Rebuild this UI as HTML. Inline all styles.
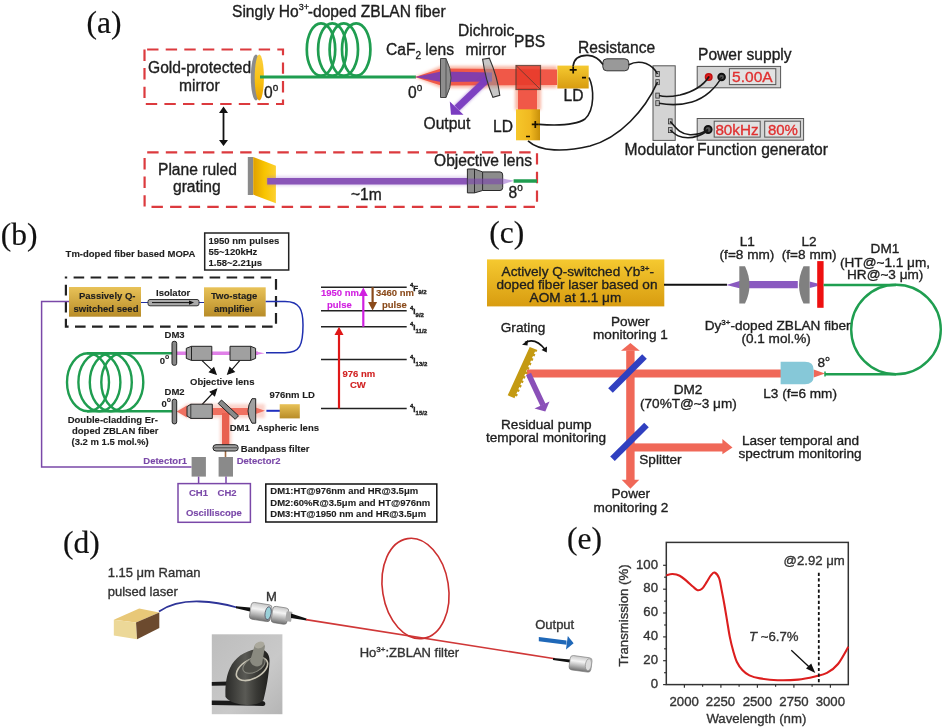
<!DOCTYPE html>
<html><head><meta charset="utf-8">
<style>
html,body{margin:0;padding:0;background:#fff;width:944px;height:727px;overflow:hidden}
svg{display:block;will-change:transform}
text{font-family:"Liberation Sans",sans-serif;fill:#1e1e1e;stroke:#1e1e1e;stroke-width:0.35px}
.sr{font-family:"Liberation Serif",serif;fill:#111;stroke:#111;stroke-width:0.2px}
.a{font-size:15.6px}
.b{font-size:9.5px;font-weight:bold;stroke-width:0.12px}
.c{font-size:13.6px}
.d{font-size:13px}
.e{font-size:13.2px}
</style></head><body>
<svg width="944" height="727" viewBox="0 0 944 727">
<defs>
 <linearGradient id="goldH" x1="0" y1="0" x2="1" y2="0"><stop offset="0" stop-color="#f6c72a"/><stop offset="0.6" stop-color="#f0b820"/><stop offset="1" stop-color="#c8900a"/></linearGradient>
 <linearGradient id="goldV" x1="0" y1="0" x2="0" y2="1"><stop offset="0" stop-color="#e8c258"/><stop offset="1" stop-color="#b88c28"/></linearGradient>
 <linearGradient id="goldC" x1="0" y1="0" x2="0" y2="1"><stop offset="0" stop-color="#f5c930"/><stop offset="1" stop-color="#d89c10"/></linearGradient>
 <filter id="glow" x="-20%" y="-50%" width="140%" height="200%"><feGaussianBlur stdDeviation="1.6"/></filter>
 <filter id="blur1"><feGaussianBlur stdDeviation="0.6"/></filter>
</defs>

<!-- ================= PANEL A ================= -->
<g id="pa">
 <text class="sr" x="86.5" y="33.3" font-size="31.5">(a)</text>
 <text class="a" x="232" y="16.5">Singly Ho<tspan font-size="9" dy="-6.5">3+</tspan><tspan dy="6.5" dx="-1.2">-doped ZBLAN fiber</tspan></text>
 <rect x="144.5" y="49.5" width="138.5" height="54.5" fill="none" stroke="#dc3a3e" stroke-width="2.2" stroke-dasharray="11.4 7.2" stroke-dashoffset="16"/>
 <rect x="144.6" y="152.4" width="392.4" height="54.5" fill="none" stroke="#dc3a3e" stroke-width="2.2" stroke-dasharray="11.4 7.2" stroke-dashoffset="16"/>
 <text class="a" x="148" y="72.5">Gold-protected</text>
 <text class="a" x="179" y="91">mirror</text>
 <!-- mirror -->
 <ellipse cx="256" cy="77.5" rx="5.2" ry="23" fill="#8c8c8c"/>
 <ellipse cx="259.3" cy="77.5" rx="4.6" ry="23" fill="url(#goldM)"/>
 <defs><linearGradient id="goldM" x1="0" y1="0" x2="0" y2="1"><stop offset="0" stop-color="#fcd040"/><stop offset="0.6" stop-color="#f8c010"/><stop offset="1" stop-color="#e8a000"/></linearGradient></defs>
 <text class="a" x="264" y="97.5">0<tspan font-size="10" dy="-7">o</tspan></text>
 <!-- fiber + coil -->
 <line x1="260" y1="77" x2="416" y2="77" stroke="#1f9d50" stroke-width="3"/>
 <g fill="none" stroke="#1f9d50" stroke-width="2.7">
  <ellipse cx="321" cy="49.5" rx="14.2" ry="26.2"/>
  <ellipse cx="332.3" cy="49.5" rx="14.2" ry="26.2"/>
  <ellipse cx="343.8" cy="49.5" rx="14.2" ry="26.2"/>
  <ellipse cx="356.2" cy="49.5" rx="14.2" ry="26.2"/>
 </g>
 <text class="a" x="386" y="54.5">CaF<tspan font-size="10" dy="4">2</tspan><tspan dy="-4"> lens</tspan></text>
 <text class="a" x="458" y="35.5">Dichroic</text>
 <text class="a" x="465.5" y="54.5">mirror</text>
 <text class="a" x="514" y="46.5">PBS</text>
 <text class="a" x="408" y="98">0<tspan font-size="10" dy="-7">o</tspan></text>
 <!-- beams -->
 <g filter="url(#glow)">
  <path d="M415,77 L441,66 L557,66 L557,88 L441,88 Z" fill="#f8a890" opacity="0.8"/>
  <rect x="515" y="88" width="26" height="22" fill="#f8a890" opacity="0.8"/>
 </g>
 <path d="M415,77 L441,68.5 L557,69.5 L557,85 L441,85.5 Z" fill="#f05848"/>
 <rect x="518" y="88" width="19" height="22" fill="#f05848"/>
 <path d="M415,77 L441,71.5 L492,72.5 L492,81.5 L441,82 Z" fill="#7a3cb4" opacity="0.92"/>
 <path d="M489,77.5 L456,109" stroke="#7a3cc0" stroke-width="7.5" opacity="0.5" filter="url(#glow)"/>
 <path d="M489,77.5 L457,108" stroke="#7a3cc0" stroke-width="7" opacity="0.95"/>
 <path d="M451,114.7 L449.8,101.5 L463.5,114.8 Z" fill="#7a3cc0"/>
 <!-- lens -->
 <path d="M440.5,58.5 L446,58.5 Q456,78 446,97.5 L440.5,97.5 Z" fill="#8e8e8e" stroke="#444" stroke-width="1"/>
 <line x1="446" y1="58.5" x2="446" y2="97.5" stroke="#444" stroke-width="0.8"/>
 <!-- dichroic -->
 <path d="M482.6,59.2 L489.4,58.2 Q497.5,77 499.8,95.3 L492.9,97.4 Q485.5,80 482.6,59.2 Z" fill="#9a9a9a" fill-opacity="0.55" stroke="#333" stroke-width="1.1"/>
 <!-- PBS -->
 <rect x="516" y="65.5" width="24.5" height="24" fill="#e83a2a" opacity="0.85" stroke="#5a3a30" stroke-width="1.2"/>
 <line x1="516" y1="65.5" x2="540.5" y2="89.5" stroke="#5a3a30" stroke-width="0.8"/>
 <!-- LDs -->
 <rect x="557.4" y="65.6" width="31.3" height="22.9" fill="url(#goldC)"/>
 <path d="M569.7,69.9 L576.7,69.9 M573.2,66.4 L573.2,73.4 M582,77.6 L586,77.6" stroke="#1a1000" stroke-width="1.7"/>
 <text class="a" x="563.5" y="101.2">LD</text>
 <rect x="516" y="109.3" width="24" height="31" fill="url(#goldH)"/>
 <path d="M531.8,124.4 L538.8,124.4 M535.3,120.9 L535.3,127.9 M526,136.5 L530,136.5" stroke="#1a1000" stroke-width="1.7"/>
 <text class="a" x="493" y="131.5">LD</text>
 <text class="a" x="423.5" y="129">Output</text>
 <rect x="602.8" y="58.8" width="26" height="12" rx="4" fill="#999" stroke="#333" stroke-width="1"/>
 <text class="a" x="578" y="52.8">Resistance</text>
 <!-- modulator -->
 <rect x="653" y="65.8" width="22.2" height="74.6" fill="#d4d4d4" stroke="#555" stroke-width="1"/>
 <g fill="#bbb" stroke="#333" stroke-width="0.8">
  <rect x="655.8" y="71.5" width="3.5" height="5"/><rect x="655.8" y="79.7" width="3.5" height="5"/>
  <rect x="655.8" y="93.1" width="3.5" height="5"/><rect x="655.8" y="100.7" width="3.5" height="5"/>
  <rect x="668.4" y="118.9" width="3.7" height="5"/><rect x="668.4" y="127.6" width="3.7" height="5"/>
 </g>
 <text class="a" x="624.5" y="155">Modulator</text>
 <text class="a" x="697" y="155">Function generator</text>
 <!-- power supply -->
 <text class="a" x="698" y="59.7">Power supply</text>
 <rect x="697.2" y="66.4" width="83.4" height="21.4" fill="#d4d4d4" stroke="#555" stroke-width="1"/>
 <circle cx="708.7" cy="77" r="3.3" fill="#e02020" stroke="#c01010" stroke-width="1.4"/>
 <circle cx="708.7" cy="77" r="1" fill="#600"/>
 <circle cx="721.6" cy="77" r="3.3" fill="#555" stroke="#111" stroke-width="2"/>
 <rect x="729.4" y="68.7" width="46.4" height="15.9" fill="#e2e2e2" stroke="#555" stroke-width="1"/>
 <text x="732.1" y="82" font-size="15" textLength="40.5" lengthAdjust="spacingAndGlyphs" style="fill:#e03030;stroke:#e03030">5.00A</text>
 <!-- function generator -->
 <rect x="697.2" y="118.5" width="106.4" height="21.7" fill="#d4d4d4" stroke="#555" stroke-width="1"/>
 <circle cx="708.1" cy="129.5" r="3.5" fill="#555" stroke="#111" stroke-width="2"/>
 <rect x="714.2" y="121.2" width="46" height="15.9" fill="#e2e2e2" stroke="#555" stroke-width="1"/>
 <rect x="764.7" y="121.2" width="35.7" height="15.9" fill="#e2e2e2" stroke="#555" stroke-width="1"/>
 <text x="715.4" y="134.8" font-size="15" textLength="43.2" lengthAdjust="spacingAndGlyphs" style="fill:#e03030;stroke:#e03030">80kHz</text>
 <text x="767.9" y="134.8" font-size="15" textLength="30" lengthAdjust="spacingAndGlyphs" style="fill:#e03030;stroke:#e03030">80%</text>
 <!-- wires -->
 <g fill="none" stroke="#1a1a1a" stroke-width="1.6">
  <path d="M573,66.4 C574,58 580,55 588,55.4 C596,56 600,60 603,64.5"/>
  <path d="M628.8,64.8 C633,62.5 640,61.5 646,63.5 C651,65.5 655,69 657.5,74"/>
  <path d="M589,77.5 C594,88 595,110 585,119 C575,126 555,125.5 539,124.4"/>
  <path d="M528,140.8 C540,152 565,152 590,146 C620,138 645,110 657.5,82.2"/>
  <path d="M659,95.6 C664,97 670,97 680,95 C692,92 703,86 708.7,77"/>
  <path d="M659,103.2 C668,105 680,105.5 692,102 C705,98 716,88 721.6,77"/>
  <path d="M670.2,121.4 C676,128 680,134 690,134.8 C697,135 703,133 708.1,129.5"/>
  <path d="M670.2,130.1 C675,134 678,137.7 688,137.8 C697,137.8 703,134 708.1,130.5"/>
 </g>
 <!-- double arrow -->
 <line x1="223.5" y1="111" x2="223.5" y2="142" stroke="#111" stroke-width="1.8"/>
 <path d="M219,113 L223.5,106.5 L228,113 Z M219,140 L223.5,146 L228,140 Z" fill="#111"/>
 <!-- grating bottom -->
 <text class="a" x="158" y="175">Plane ruled</text>
 <text class="a" x="173" y="191.5">grating</text>
 <defs><linearGradient id="goldG" x1="0" y1="0" x2="1" y2="0"><stop offset="0" stop-color="#e0a000"/><stop offset="0.5" stop-color="#f8c400"/><stop offset="1" stop-color="#fcd030"/></linearGradient></defs>
 <path d="M247.8,157 L253.2,157 L253.2,195 L247.8,195 Z" fill="#8a8a8a"/>
 <path d="M253.2,157 L275.9,165.7 L275.9,203.2 L253.2,194.6 Z" fill="url(#goldG)"/>
 <rect x="267" y="176.5" width="201" height="9" fill="#a070d0" opacity="0.35" filter="url(#glow)"/>
 <rect x="267.2" y="178" width="201" height="6.5" fill="#8a55b8"/>
 <text class="a" x="351" y="200">~1m</text>
 <text class="a" x="434" y="166">Objective lens</text>
 <path d="M467.4,169 L474.5,169 L482.6,171.9 L500,171.9 Q502.7,171.9 502.7,175 L502.7,187.5 Q502.7,190.5 500,190.5 L482.6,190.5 L474.5,192.9 L467.4,192.9 Z" fill="#8c8c8c" stroke="#2a2a2a" stroke-width="1"/>
 <line x1="474.5" y1="169" x2="474.5" y2="192.9" stroke="#2a2a2a" stroke-width="1"/>
 <line x1="482.6" y1="171.9" x2="482.6" y2="190.5" stroke="#2a2a2a" stroke-width="1"/>
 <rect x="467.4" y="178.6" width="35.3" height="5.7" fill="#7a40b0" opacity="0.55"/>
 <path d="M502.7,178.4 L514,180.8 L502.7,184.5 Z" fill="#a070d0" opacity="0.6"/>
 <line x1="513.6" y1="181" x2="537" y2="181" stroke="#1f9d50" stroke-width="3.5"/>
 <text class="a" x="508.5" y="198.1">8<tspan font-size="10" dy="-7">o</tspan></text>
</g>

<!-- ================= PANEL B ================= -->
<g id="pb">
 <text class="sr" x="0.7" y="245.0" font-size="31.5">(b)</text>
 <text class="b" x="65.6" y="257">Tm-doped fiber based MOPA</text>
 <rect x="204.7" y="233" width="84" height="37" fill="#fff" stroke="#222" stroke-width="1.5"/>
 <text class="b" x="208.5" y="243.5">1950 nm pulses</text>
 <text class="b" x="208.5" y="254.5">55~120kHz</text>
 <text class="b" x="208.5" y="266">1.58~2.21μs</text>
 <rect x="65.9" y="277.5" width="210.1" height="49.2" fill="none" stroke="#222" stroke-width="2.2" stroke-dasharray="10.6 6.4" stroke-dashoffset="9.3"/>
 <!-- purple detector line -->
 <path d="M69,301.5 L41.6,301.5 L41.6,467 L191.6,467" fill="none" stroke="#7a48a8" stroke-width="1.5"/>
 <rect x="69" y="287" width="72" height="29.7" fill="url(#goldV)"/>
 <text class="b" x="79" y="299" font-size="9.8">Passively Q-</text>
 <text class="b" x="73.5" y="311.5" font-size="9.8">switched seed</text>
 <line x1="141" y1="302.5" x2="204" y2="302.5" stroke="#2030a0" stroke-width="1.2"/>
 <rect x="148" y="299.5" width="51" height="6.3" rx="2" fill="#aaa" stroke="#333" stroke-width="1"/>
 <line x1="152" y1="302.6" x2="192" y2="302.6" stroke="#111" stroke-width="1"/>
 <path d="M189,300.5 L194,302.6 L189,304.7 Z" fill="#111"/>
 <text class="b" x="156" y="296">Isolator</text>
 <rect x="204" y="287.3" width="61.7" height="29.2" fill="url(#goldV)"/>
 <text class="b" x="211" y="299" font-size="9.8">Two-stage</text>
 <text class="b" x="214" y="311.5" font-size="9.8">amplifier</text>
 <path d="M265.7,301.5 L285,301.5 C300,301.5 303,310 303,325 C303,345 300,352.7 285,352.7 L266,352.7" fill="none" stroke="#2030b0" stroke-width="1.5"/>
 <!-- coil -->
 <g fill="none" stroke="#1f9d50" stroke-width="2.4">
  <ellipse cx="88" cy="382.3" rx="21" ry="29"/>
  <ellipse cx="99.4" cy="382.3" rx="21" ry="29"/>
  <ellipse cx="110.8" cy="382.3" rx="21" ry="29"/>
  <ellipse cx="122.3" cy="382.3" rx="21" ry="29"/>
 </g>
 <line x1="87" y1="353.3" x2="172" y2="353.3" stroke="#1f9d50" stroke-width="2.4"/>
 <line x1="87" y1="411.3" x2="172" y2="411.3" stroke="#1f9d50" stroke-width="2.4"/>
 <text class="b" x="164.6" y="337.5">DM3</text>
 <text class="b" x="164.6" y="394.7">DM2</text>
 <text class="b" x="159.8" y="364">0<tspan font-size="7" dy="-5">o</tspan></text>
 <text class="b" x="161.5" y="407">0<tspan font-size="7" dy="-5">o</tspan></text>
 <!-- upper objective pair -->
 <line x1="176" y1="353.2" x2="258" y2="353.2" stroke="#e080e8" stroke-width="3.4"/>
 <path d="M255.6,351.5 L264.7,353.2 L255.6,355 Z" fill="#e080e8"/>
 <rect x="172" y="341.3" width="4.7" height="24" rx="2" fill="#888" stroke="#222" stroke-width="1"/>
 <path d="M191.5,346.3 L211.8,346.3 L211.8,360.4 L191.5,360.4 L186.3,358.4 L186.3,348.3 Z" fill="#a0a0a0" stroke="#222" stroke-width="1"/>
 <line x1="191.5" y1="346.3" x2="191.5" y2="360.4" stroke="#222" stroke-width="1"/>
 <path d="M230,346.3 L250.7,346.3 L255.6,348.3 L255.6,358.4 L250.7,360.4 L230,360.4 Z" fill="#a0a0a0" stroke="#222" stroke-width="1"/>
 <line x1="250.7" y1="346.3" x2="250.7" y2="360.4" stroke="#222" stroke-width="1"/>
 <!-- arrows to objective lens label -->
 <g stroke="#111" stroke-width="1.1" fill="#111">
  <line x1="202.1" y1="360.7" x2="213" y2="371.2"/><path d="M216.1,374.2 L209.5,372 L213.8,367.8 Z"/>
  <line x1="239.7" y1="360.7" x2="230.6" y2="371.2"/><path d="M227.6,374.2 L229.8,367.6 L234.3,371.8 Z"/>
  <line x1="202.1" y1="404.5" x2="213.8" y2="392"/><path d="M216.6,389.1 L214.6,395.8 L210.2,391.8 Z"/>
 </g>
 <text class="b" x="190" y="384.8">Objective lens</text>
 <!-- lower path -->
 <g filter="url(#glow)" opacity="0.5">
  <path d="M176.7,411.5 L187,404 L264.9,404 L264.9,418 L187,418 Z" fill="#f7a898"/>
  <rect x="220" y="413" width="11.5" height="33" fill="#f7a898"/>
 </g>
 <path d="M176.7,411.5 L187,405.5 L187,417.5 Z" fill="#f07060"/>
 <rect x="212" y="408" width="36" height="7" fill="#f07060"/>
 <path d="M255.7,407.5 L264.9,410.8 L255.7,414 Z" fill="#f07060"/>
 <rect x="222" y="413" width="7.3" height="32.5" fill="#e86050"/>
 <line x1="225.5" y1="451" x2="225.5" y2="457.3" stroke="#a06a40" stroke-width="1.6"/>
 <rect x="172.2" y="399.2" width="4.5" height="24.7" rx="2" fill="#888" stroke="#222" stroke-width="1"/>
 <path d="M190.8,404.2 L212.3,404.2 L212.3,418.4 L190.8,418.4 L187,416 L187,406.6 Z" fill="#a0a0a0" stroke="#222" stroke-width="1"/>
 <line x1="190.8" y1="404.2" x2="190.8" y2="418.4" stroke="#222" stroke-width="0.8"/>
 <path d="M218.2,403.5 L221.5,400 L238.5,415.8 L235.2,419.3 Z" fill="#8a8a8a" stroke="#222" stroke-width="1"/>
 <path d="M255.7,398.7 L252,398.7 Q244,411 252,423.2 L255.7,423.2 Z" fill="#a0a0a0" stroke="#222" stroke-width="1"/>
 <line x1="266.4" y1="410.8" x2="280" y2="410.8" stroke="#2030c0" stroke-width="2"/>
 <rect x="279.7" y="404.2" width="20.1" height="14.2" fill="url(#goldV)"/>
 <text class="b" x="269.4" y="398">976nm LD</text>
 <text class="b" x="229.7" y="430.6">DM1</text>
 <text class="b" x="256.7" y="430.6">Aspheric lens</text>
 <text class="b" x="67.7" y="423.3">Double-cladding Er-</text>
 <text class="b" x="72" y="434">doped ZBLAN fiber</text>
 <text class="b" x="71.5" y="445.4">(3.2 m 1.5 mol.%)</text>
 <!-- bandpass, detectors, scope -->
 <rect x="213" y="444.7" width="25.2" height="6.3" rx="3" fill="#a0a0a0" stroke="#222" stroke-width="1"/><line x1="214" y1="447.8" x2="237" y2="447.8" stroke="#222" stroke-width="0.7"/>
 <text class="b" x="240.8" y="451.8">Bandpass filter</text>
 <rect x="191.6" y="457" width="14.3" height="19.6" fill="#8a8a8a"/>
 <rect x="218.6" y="457" width="14.4" height="19.6" fill="#8a8a8a"/>
 <line x1="198.6" y1="476.6" x2="198.6" y2="483.6" stroke="#7a48a8" stroke-width="1.5"/>
 <line x1="226" y1="476.6" x2="226" y2="483.6" stroke="#7a48a8" stroke-width="1.5"/>
 <rect x="178" y="483.6" width="72.4" height="38.7" fill="none" stroke="#7a48a8" stroke-width="1.5"/>
 <text class="b" x="143.3" y="463.9" style="fill:#7a48a8;stroke:#7a48a8">Detector1</text>
 <text class="b" x="236.7" y="463.9" style="fill:#7a48a8;stroke:#7a48a8">Detector2</text>
 <text class="b" x="189" y="496.3" style="fill:#7a48a8;stroke:#7a48a8">CH1</text>
 <text class="b" x="217.6" y="496.3" style="fill:#7a48a8;stroke:#7a48a8">CH2</text>
 <text class="b" x="185.9" y="516" style="fill:#7a48a8;stroke:#7a48a8">Oscilliscope</text>
 <rect x="265.8" y="484" width="171" height="38" fill="#fff" stroke="#111" stroke-width="1.5"/>
 <text class="b" x="270.3" y="494.2">DM1:HT@976nm and HR@3.5μm</text>
 <text class="b" x="270.3" y="505.6">DM2:60%R@3.5μm and HT@976nm</text>
 <text class="b" x="270.3" y="517">DM3:HT@1950 nm and HR@3.5μm</text>
 <!-- energy levels -->
 <g stroke="#222" stroke-width="1.6">
  <line x1="321" y1="287.2" x2="406.7" y2="287.2"/>
  <line x1="321" y1="310.7" x2="406.7" y2="310.7"/>
  <line x1="321" y1="326.7" x2="406.7" y2="326.7"/>
  <line x1="321" y1="359.5" x2="406.7" y2="359.5"/>
  <line x1="321" y1="408.5" x2="406.7" y2="408.5"/>
 </g>
 <line x1="339" y1="408.5" x2="339" y2="334" stroke="#e01818" stroke-width="2.2"/>
 <path d="M334.5,335 L339,326.7 L343.5,335 Z" fill="#e01818"/>
 <line x1="363.3" y1="326.7" x2="363.3" y2="295" stroke="#d020e0" stroke-width="2.2"/>
 <path d="M358.8,296 L363.3,287.5 L367.8,296 Z" fill="#d020e0"/>
 <line x1="372.6" y1="287.2" x2="372.6" y2="303" stroke="#8a4a1a" stroke-width="2.2"/>
 <path d="M368.1,302 L372.6,310.5 L377.1,302 Z" fill="#8a4a1a"/>
 <text class="b" x="321" y="296" style="fill:#d020e0;stroke:#d020e0">1950 nm</text>
 <text class="b" x="327" y="307.6" style="fill:#d020e0;stroke:#d020e0">pulse</text>
 <text class="b" x="376" y="296" style="fill:#8a4a1a;stroke:#8a4a1a">3460 nm</text>
 <text class="b" x="382" y="307.6" style="fill:#8a4a1a;stroke:#8a4a1a">pulse</text>
 <text class="b" x="342.4" y="376.7" style="fill:#d02020;stroke:#d02020">976 nm</text>
 <text class="b" x="350" y="387.7" style="fill:#d02020;stroke:#d02020">CW</text>
 <g font-size="8" font-weight="bold">
  <text x="410" y="290.5"><tspan font-size="6" dy="-4">4</tspan><tspan dy="4">F</tspan><tspan font-size="6" dy="3">9/2</tspan></text>
  <text x="410" y="314"><tspan font-size="6" dy="-4">4</tspan><tspan dy="4">I</tspan><tspan font-size="6" dy="3">9/2</tspan></text>
  <text x="410" y="330"><tspan font-size="6" dy="-4">4</tspan><tspan dy="4">I</tspan><tspan font-size="6" dy="3">11/2</tspan></text>
  <text x="410" y="363"><tspan font-size="6" dy="-4">4</tspan><tspan dy="4">I</tspan><tspan font-size="6" dy="3">13/2</tspan></text>
  <text x="410" y="412"><tspan font-size="6" dy="-4">4</tspan><tspan dy="4">I</tspan><tspan font-size="6" dy="3">15/2</tspan></text>
 </g>
</g>

<!-- ================= PANEL C ================= -->
<g id="pc">
 <text class="sr" x="489.3" y="242.5" font-size="31.5">(c)</text>
 <rect x="487" y="259.4" width="177.3" height="47" fill="url(#goldC)"/>
 <text class="c" x="501.6" y="276">Actively Q-switched Yb<tspan font-size="8" dy="-5">3+</tspan><tspan dy="5">-</tspan></text>
 <text class="c" x="496.5" y="289">doped fiber laser based on</text>
 <text class="c" x="529.6" y="302">AOM at 1.1 μm</text>
 <line x1="664" y1="284.8" x2="727" y2="284.8" stroke="#111" stroke-width="2"/>
 <path d="M726.4,285 L739.5,281 L797.8,281 L797.8,288.3 L739.5,288.3 Z" fill="#8a5ac0"/>
 <path d="M809.6,281.5 L817.5,283.5 L817.5,286 L809.6,288 Z" fill="#8a5ac0"/>
 <path d="M739.3,266.2 L745,266.2 Q754,285 745,303.6 L739.3,303.6 Z" fill="#808080"/>
 <path d="M809.6,266.2 L803.5,266.2 Q794.5,285 803.5,303.6 L809.6,303.6 Z" fill="#808080"/>
 <rect x="817.2" y="261.1" width="6.4" height="46.7" fill="#ee1010"/>
 <text class="c" x="739.7" y="245.6">L1</text>
 <text class="c" x="719.6" y="259">(f=8 mm)</text>
 <text class="c" x="801.4" y="245.6">L2</text>
 <text class="c" x="781.8" y="259">(f=8 mm)</text>
 <text class="c" x="870.6" y="252.5">DM1</text>
 <text class="c" x="840" y="266.6">(HT@~1.1 μm,</text>
 <text class="c" x="847" y="278.7">HR@~3 μm)</text>
 <g fill="none" stroke="#1f9e50" stroke-width="2.4">
  <line x1="823.6" y1="285" x2="896" y2="285"/>
  <circle cx="896" cy="329.5" r="44.8"/>
  <line x1="825" y1="374.2" x2="896" y2="374.2"/>
 </g>
 <text class="c" x="704.7" y="330.2">Dy<tspan font-size="8" dy="-5">3+</tspan><tspan dy="5">-doped ZBLAN fiber</tspan></text>
 <text class="c" x="741.4" y="343">(0.1 mol.%)</text>
 <!-- beams -->
 <rect x="527" y="369.5" width="254" height="8" fill="#f06858"/>
 <rect x="626.2" y="350.5" width="8.4" height="130" fill="#f06858"/>
 <path d="M621,350.7 L630.4,343 L639.8,350.7 Z" fill="#f06858"/>
 <path d="M621.7,479.7 L630.4,488.8 L639.3,479.7 Z" fill="#f06858"/>
 <rect x="634" y="443.4" width="89" height="8.1" fill="#f06858"/>
 <path d="M722.4,439 L732.5,447.5 L722.4,454.2 Z" fill="#f06858"/>
 <path d="M813.7,369.5 L825,373.5 L813.7,377.5 Z" fill="#f06858"/>
 <path d="M780.6,361.8 L805,361.8 Q813.7,361.8 813.7,370 L813.7,376 Q813.7,384.2 805,384.2 L780.6,384.2 Z" fill="#86c8d8"/>
 <line x1="825" y1="371.5" x2="825" y2="376.5" stroke="#20a050" stroke-width="1.5"/>
 <text class="c" x="817.6" y="367">8<tspan font-size="8" dy="-6">o</tspan></text>
 <text class="c" x="763.3" y="398">L3 (f=6 mm)</text>
 <line x1="610.5" y1="390.5" x2="644.5" y2="356.5" stroke="#3040c0" stroke-width="6.5"/>
 <line x1="612.5" y1="458.7" x2="646.5" y2="425" stroke="#3040c0" stroke-width="6.5"/>
 <!-- grating -->
 <path d="M528.5,374 L543,405" stroke="#8a50b8" stroke-width="5.5" fill="none"/>
 <path d="M534.5,408.5 L545.3,411.5 L549.5,401.5 Z" fill="#8a50b8"/>
 <path d="M529.7,346.9 L537.4,349.9 L536.4,352.1 L535.0,351.5 L534.0,353.7 L535.4,354.3 L534.5,356.6 L533.0,355.9 L532.0,358.1 L533.5,358.8 L532.5,361.0 L531.0,360.4 L530.1,362.6 L531.5,363.2 L530.6,365.5 L529.1,364.8 L528.1,367.0 L529.6,367.7 L528.6,369.9 L527.1,369.3 L526.2,371.5 L527.6,372.1 L526.6,374.4 L525.2,373.7 L524.2,375.9 L525.7,376.6 L524.7,378.8 L523.2,378.2 L522.3,380.4 L523.7,381.0 L522.7,383.2 L521.3,382.6 L520.3,384.8 L521.8,385.5 L520.8,387.7 L519.3,387.0 L518.3,389.3 L519.8,389.9 L518.8,392.1 L517.4,391.5 L516.4,393.7 L517.9,394.4 L516.9,396.6 L515.4,395.9 L514.4,398.2 L515.9,398.8 L507.7,395.3 Z" fill="#c49a12"/>
 <path d="M525,342.5 Q535.5,337 545.5,350" fill="none" stroke="#111" stroke-width="1.6"/>
 <path d="M522,344.8 L528,340 L527.5,345.6 Z M541.5,350 L547,346.5 L546.8,352.5 Z" fill="#111"/>
 <text class="c" x="500.8" y="331.6">Grating</text>
 <text class="c" x="611" y="325.8">Power</text>
 <text class="c" x="593" y="338.5">monitoring 1</text>
 <text class="c" x="673.7" y="394">DM2</text>
 <text class="c" x="640" y="408">(70%T@~3 μm)</text>
 <text class="c" x="501" y="428.8">Residual pump</text>
 <text class="c" x="486" y="442.4">temporal monitoring</text>
 <text class="c" x="639.3" y="464.4">Splitter</text>
 <text class="c" x="611.5" y="498.3">Power</text>
 <text class="c" x="593.6" y="511.9">monitoring 2</text>
 <text class="c" x="742" y="444.5">Laser temporal and</text>
 <text class="c" x="738.5" y="457.5">spectrum monitoring</text>
</g>

<!-- ================= PANEL D ================= -->
<defs>
 <linearGradient id="silver" x1="0" y1="0" x2="0" y2="1"><stop offset="0" stop-color="#c8c8c8"/><stop offset="0.35" stop-color="#f4f4f4"/><stop offset="0.7" stop-color="#b0b0b0"/><stop offset="1" stop-color="#707070"/></linearGradient>
 <linearGradient id="photoBg" x1="0" y1="0" x2="1" y2="1"><stop offset="0" stop-color="#bdbdbd"/><stop offset="0.6" stop-color="#c9c9c9"/><stop offset="1" stop-color="#b5b5b5"/></linearGradient>
 <linearGradient id="conn" x1="0" y1="0" x2="1" y2="0"><stop offset="0" stop-color="#2a2a28"/><stop offset="0.45" stop-color="#5a5a55"/><stop offset="0.7" stop-color="#3a3a36"/><stop offset="1" stop-color="#1e1e1c"/></linearGradient>
</defs>
<g id="pd">
 <text class="sr" x="62.9" y="552.5" font-size="31.5">(d)</text>
 <text class="d" x="107.7" y="577.4" style="fill:#333;stroke:#333">1.15 μm Raman</text>
 <text class="d" x="107.7" y="595.5" style="fill:#333;stroke:#333">pulsed laser</text>
 <path d="M113.8,619.7 L139.2,608.6 L159.3,612.5 L136,622.5 Z" fill="#e8c878"/>
 <path d="M113.8,619.7 L136,622.5 L137.1,639.2 L113.8,635.6 Z" fill="#ecd898"/>
 <path d="M136,622.5 L159.3,612.5 L159.3,628 L137.1,639.2 Z" fill="#6c4a2e"/>
 <path d="M159,611.5 C170,604 185,601 200,601.5 C215,602 228,605 237,607.5" fill="none" stroke="#2e3498" stroke-width="1.8"/>
 <path d="M236,606.3 L250,607.5 L250,611.5 L236,608.3 Z" fill="#111"/>
 <g transform="rotate(9 270 614)">
  <rect x="250" y="605" width="21" height="17" rx="3" fill="url(#silver)" stroke="#666" stroke-width="0.6"/>
  <ellipse cx="268" cy="613.5" rx="3" ry="6.5" fill="#9ad0d8" stroke="#556" stroke-width="0.8"/>
  <rect x="272" y="605.5" width="16" height="16.5" rx="3" fill="url(#silver)" stroke="#666" stroke-width="0.6"/>
  <rect x="286" y="608.5" width="6" height="10" rx="1" fill="#aaa"/>
 </g>
 <path d="M291,613.5 L306.5,618.5 L306.5,620.5 L291,618 Z" fill="#111"/>
 <text class="d" x="266" y="600.5" style="fill:#333;stroke:#333">M</text>
 <line x1="306" y1="619.6" x2="555" y2="658.8" stroke="#d03838" stroke-width="1.6"/>
 <path d="M553,658 L570,659.5 L570,662.5 L553,660 Z" fill="#111"/>
 <ellipse cx="415.5" cy="588.5" rx="33" ry="50.5" transform="rotate(-9 415.5 588.5)" fill="none" stroke="#cc3030" stroke-width="1.6"/>
 <text class="d" x="359.7" y="657.3" style="fill:#333;stroke:#333">Ho<tspan font-size="8" dy="-5">3+</tspan><tspan dy="5">:ZBLAN filter</tspan></text>
 <text class="d" x="535.2" y="628.9" style="fill:#333;stroke:#333">Output</text>
 <path d="M538.8,637 L566.5,640.5 L566.5,644.8 L538.8,641.3 Z" fill="#1f68b8"/>
 <path d="M567.8,636 L573.6,643.2 L566,649.6 Z" fill="#1f68b8"/>
 <g transform="rotate(8 580 663.5)">
  <rect x="569.6" y="656.5" width="22" height="14.5" rx="3" fill="url(#silver)" stroke="#777" stroke-width="0.6"/>
  <ellipse cx="588.5" cy="663.5" rx="3" ry="6" fill="#ddd" stroke="#888" stroke-width="0.6"/>
 </g>
 <!-- photo -->
 <rect x="211.8" y="634.3" width="70.6" height="79.9" fill="url(#photoBg)"/>
 <path d="M211.8,682 L228,681.5 L228,685.5 L211.8,685.8 Z" fill="#1a1a1a"/>
 <path d="M211.8,700.5 L262,701 C266,701 266.5,705.5 263,706 L211.8,705 Z" fill="#1a1a1a"/>
 <path d="M225.5,697 C225,688 226,676 230,668 C235,657 246,650 258,649 C266,649 270,654 269.5,662 C269,675 266,690 263.5,700 C258,707 233,707 225.5,697 Z" fill="url(#conn)"/>
 <ellipse cx="252" cy="669" rx="17" ry="9.5" transform="rotate(-28 252 669)" fill="none" stroke="#c8c4b4" stroke-width="1.6"/>
 <ellipse cx="254" cy="665" rx="12" ry="7" transform="rotate(-28 254 665)" fill="#4e4e48" stroke="#8a8a80" stroke-width="1"/>
 <path d="M250,661 L254.5,646 C256,641.5 264,641.5 265,646 L262,664 C259,668 252,667 250,661 Z" fill="#8a8a80"/>
 <ellipse cx="259.5" cy="645" rx="5" ry="3.2" transform="rotate(-20 259.5 645)" fill="#aaa89c"/>
</g>

<!-- ================= PANEL E ================= -->
<g id="pe">
 <text class="sr" x="567" y="549.2" font-size="31.5">(e)</text>
 <rect x="666.3" y="542.4" width="182" height="142.2" fill="none" stroke="#333" stroke-width="1.5"/>
 <g stroke="#333" stroke-width="1.2">
  <line x1="663.1" y1="684.6" x2="666.3" y2="684.6"/>
  <line x1="664.1" y1="672.7" x2="666.3" y2="672.7"/>
  <line x1="663.1" y1="660.7" x2="666.3" y2="660.7"/>
  <line x1="664.1" y1="648.8" x2="666.3" y2="648.8"/>
  <line x1="663.1" y1="636.9" x2="666.3" y2="636.9"/>
  <line x1="664.1" y1="625.0" x2="666.3" y2="625.0"/>
  <line x1="663.1" y1="613.0" x2="666.3" y2="613.0"/>
  <line x1="664.1" y1="601.1" x2="666.3" y2="601.1"/>
  <line x1="663.1" y1="589.2" x2="666.3" y2="589.2"/>
  <line x1="664.1" y1="577.2" x2="666.3" y2="577.2"/>
  <line x1="663.1" y1="565.3" x2="666.3" y2="565.3"/>
  <line x1="684.4" y1="684.6" x2="684.4" y2="687.8"/>
  <line x1="702.6" y1="684.6" x2="702.6" y2="686.8"/>
  <line x1="720.9" y1="684.6" x2="720.9" y2="687.8"/>
  <line x1="739.1" y1="684.6" x2="739.1" y2="686.8"/>
  <line x1="757.4" y1="684.6" x2="757.4" y2="687.8"/>
  <line x1="775.6" y1="684.6" x2="775.6" y2="686.8"/>
  <line x1="793.9" y1="684.6" x2="793.9" y2="687.8"/>
  <line x1="812.1" y1="684.6" x2="812.1" y2="686.8"/>
  <line x1="830.4" y1="684.6" x2="830.4" y2="687.8"/>
 </g>
 <g class="e" text-anchor="end" style="fill:#333;stroke:#333">
  <text x="658" y="688" style="fill:#333;stroke:#333">0</text>
  <text x="658" y="664" style="fill:#333;stroke:#333">20</text>
  <text x="658" y="640.2" style="fill:#333;stroke:#333">40</text>
  <text x="658" y="616.2" style="fill:#333;stroke:#333">60</text>
  <text x="658" y="592.3" style="fill:#333;stroke:#333">80</text>
  <text x="658" y="568.5" style="fill:#333;stroke:#333">100</text>
 </g>
 <g class="e" text-anchor="middle">
  <text x="684.2" y="706.3" style="fill:#333;stroke:#333">2000</text>
  <text x="720.5" y="706.3" style="fill:#333;stroke:#333">2250</text>
  <text x="757.3" y="706.3" style="fill:#333;stroke:#333">2500</text>
  <text x="794" y="706.3" style="fill:#333;stroke:#333">2750</text>
  <text x="830.3" y="706.3" style="fill:#333;stroke:#333">3000</text>
 </g>
 <text class="e" x="706.4" y="722.8" style="fill:#333;stroke:#333">Wavelength (nm)</text>
 <text class="e" transform="translate(628 666.5) rotate(-90)" style="fill:#333;stroke:#333">Transmission (%)</text>
 <path d="M666.3,575.2 C667.3,575.0 670.3,573.9 672.5,574 C674.7,574.1 677.3,574.5 679.7,575.7 C682.1,576.9 684.6,579.2 686.8,581.1 C689.0,583.0 691.3,585.3 693.1,586.8 C694.9,588.3 696.1,589.9 697.6,590.2 C699.1,590.5 700.5,590.1 702,588.8 C703.5,587.5 705.0,584.7 706.5,582.4 C708.0,580.1 709.6,576.9 711,575.2 C712.4,573.6 713.3,572.0 714.6,572.5 C715.9,573.0 717.8,574.9 719,577.9 C720.2,580.9 720.8,585.9 721.7,590.4 C722.6,594.9 723.5,599.6 724.4,604.7 C725.3,609.8 726.2,615.4 727.1,620.8 C728.0,626.2 728.8,631.8 729.8,636.9 C730.8,642.0 732.1,647.0 733.3,651.2 C734.5,655.4 735.4,658.9 736.9,662 C738.4,665.1 740.2,667.8 742.3,670 C744.4,672.2 746.4,674.0 749.4,675.4 C752.4,676.8 755.3,677.6 760,678.4 C764.7,679.2 771.1,680.0 777.5,680.2 C783.9,680.4 791.7,680.2 798.1,679.6 C804.5,679.0 811.2,677.4 816,676.3 C820.8,675.2 823.3,674.9 827,672.9 C830.7,670.9 834.5,668.4 838,664 C841.5,659.6 846.6,649.7 848.3,646.8" fill="none" stroke="#dc1e1e" stroke-width="2.1"/>
 <line x1="818.8" y1="572.7" x2="818.8" y2="684.6" stroke="#111" stroke-width="1.8" stroke-dasharray="3.2 2.4"/>
 <text class="e" x="783.5" y="565.3" style="fill:#333;stroke:#333">@2.92 μm</text>
 <text class="e" x="749" y="641.4" style="fill:#333;stroke:#333"><tspan font-style="italic">T</tspan> ~6.7%</text>
 <line x1="791.3" y1="650.2" x2="810" y2="667.8" stroke="#111" stroke-width="1.3"/>
 <path d="M806,668.5 L815.3,672.9 L811.2,663.5 Z" fill="#111"/>
</g>

</svg>
</body></html>
